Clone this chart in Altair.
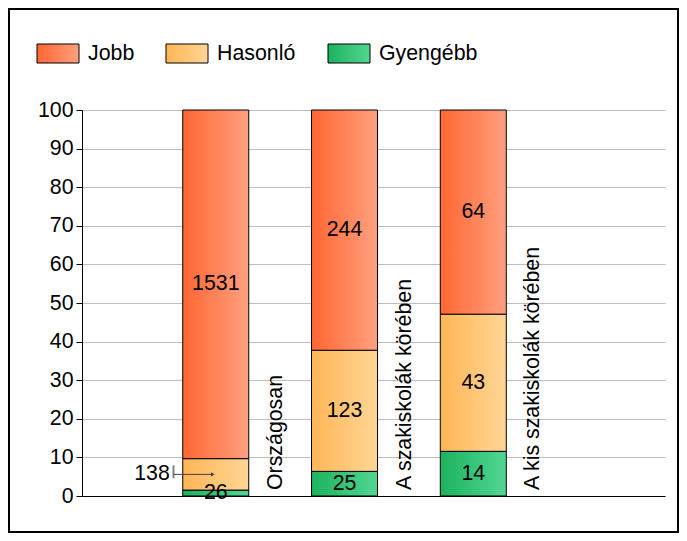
import altair as alt
import pandas as pd

# ---- data ----
categories = ["Országosan", "A szakiskolák körében", "A kis szakiskolák körében"]
series_stack = ["Gyengébb", "Hasonló", "Jobb"]          # bottom -> top
gyengebb = [26, 25, 14]
hasonlo = [138, 123, 43]
jobb = [1531, 244, 64]
y_ticks = [0, 10, 20, 30, 40, 50, 60, 70, 80, 90, 100]
legend_order = ["Jobb", "Hasonló", "Gyengébb"]
callouts = [("Országosan", "Hasonló")]

# ---- styling ----
FONT = "Liberation Sans"
FS = 21.33
W, H = 583, 386
X_MAX = 4.45
PX = X_MAX / W  # data units per pixel
grad_left = {"Jobb": "#FF6633", "Hasonló": "#FFB655", "Gyengébb": "#1CB25E"}
grad_right = {"Jobb": "#FFA07F", "Hasonló": "#FFD595", "Gyengébb": "#52D692"}
legend_x = {"Jobb": -45, "Hasonló": 84, "Gyengébb": 246}


def grad(name):
    return alt.Gradient(
        gradient="linear",
        stops=[alt.GradientStop(color=grad_left[name], offset=0),
               alt.GradientStop(color=grad_right[name], offset=1)],
        x1=0, x2=1, y1=0, y2=0,
    )


counts = {"Gyengébb": gyengebb, "Hasonló": hasonlo, "Jobb": jobb}
rows = []
for i, cat in enumerate(categories):
    total = sum(counts[s][i] for s in series_stack)
    cum = 0.0
    for s in series_stack:
        v = counts[s][i]
        pct = 100.0 * v / total
        rows.append({"cat": cat, "pos": i + 1, "series": s, "count": v,
                     "start": cum, "end": cum + pct, "mid": cum + pct / 2,
                     "callout": (cat, s) in callouts})
        cum += pct
df = pd.DataFrame(rows)
cat_df = pd.DataFrame({"cat": categories, "pos": list(range(1, len(categories) + 1))})

xs = alt.Scale(domain=[0, X_MAX], nice=False, zero=False)
ys = alt.Scale(domain=[0, 100], nice=False)
XAX = alt.Axis(labels=False, ticks=False, grid=False, title=None,
               domainColor="black", domainWidth=1)
YAX = alt.Axis(values=y_ticks, title=None, grid=True, gridColor="#BDBDBD",
               gridWidth=1, domainColor="black", tickColor="black",
               tickSize=6, labelFont=FONT, labelFontSize=FS,
               labelColor="black", labelPadding=3)


def X(f):
    return alt.X(f, scale=xs, axis=XAX)


def Y(f):
    return alt.Y(f, scale=ys, axis=YAX)


layers = []

# bars, one layer per series (each with its own gradient)
for s in series_stack:
    sub = df[df["series"] == s]
    layers.append(
        alt.Chart(sub).mark_bar(size=66, color=grad(s), stroke="black", strokeWidth=1)
        .encode(x=X("pos:Q"), y=Y("start:Q"), y2="end:Q")
    )

# value labels inside segments
layers.append(
    alt.Chart(df[~df["callout"]]).mark_text(font=FONT, fontSize=FS, color="black",
                                            align="center", baseline="middle")
    .encode(x=X("pos:Q"), y=Y("mid:Q"), text="count:Q")
)

# callout labels (outside to the left with a leader arrow)
cdf = df[df["callout"]].copy()
cdf["tick_x"] = cdf["pos"] - 43 * PX
cdf["arrow_x"] = cdf["pos"] - 3 * PX
cdf["tick_y1"] = cdf["mid"] - 4 / H * 100
cdf["tick_y2"] = cdf["mid"] + 9 / H * 100
layers.append(
    alt.Chart(cdf).mark_text(font=FONT, fontSize=FS, color="black",
                             align="right", baseline="middle", dx=-46)
    .encode(x=X("pos:Q"), y=Y("mid:Q"), text="count:Q")
)
layers.append(
    alt.Chart(cdf).mark_rule(color="#808080", strokeWidth=2)
    .encode(x=X("tick_x:Q"), y=Y("tick_y1:Q"), y2="tick_y2:Q")
)
layers.append(
    alt.Chart(cdf).mark_rule(color="#404040", strokeWidth=1)
    .encode(x=X("tick_x:Q"), x2="arrow_x:Q", y=Y("mid:Q"))
)
layers.append(
    alt.Chart(cdf).mark_point(shape="triangle-right", filled=True, size=18,
                              color="#404040", opacity=1)
    .encode(x=X("arrow_x:Q"), y=Y("mid:Q"))
)

# category labels: vertical, to the right of each bar
layers.append(
    alt.Chart(cat_df).mark_text(font=FONT, fontSize=FS, color="black", angle=270,
                                align="left", baseline="middle", dx=6, dy=60)
    .encode(x=X("pos:Q"), y=Y("zero:Q"), text="cat:N")
    .transform_calculate(zero="0")
)

# manual legend with gradient swatches
for s in legend_order:
    ldf = pd.DataFrame({"name": [s]})
    lx = legend_x[s]
    layers.append(
        alt.Chart(ldf).mark_rect(color=grad(s), stroke="black", strokeWidth=1)
        .encode(x=alt.value(lx), x2=alt.value(lx + 42), y=alt.value(-66), y2=alt.value(-47))
    )
    layers.append(
        alt.Chart(ldf).mark_text(font=FONT, fontSize=FS, color="black",
                                 align="left", baseline="middle")
        .encode(x=alt.value(lx + 51), y=alt.value(-56), text="name:N")
    )

# outer border
layers.append(
    alt.Chart(pd.DataFrame({"b": [1]})).mark_rect(fillOpacity=0, stroke="black", strokeWidth=2)
    .encode(x=alt.value(-73), x2=alt.value(W + 13), y=alt.value(-101), y2=alt.value(H + 36))
)

chart = alt.layer(*layers).properties(
    width=W, height=H,
    autosize=alt.AutoSizeParams(type="none"),
    padding={"left": 74, "top": 102, "right": 14, "bottom": 37},
    background="white",
).configure_view(stroke=None)

chart.save("out.html", embed_options={"renderer": "svg", "actions": False})
